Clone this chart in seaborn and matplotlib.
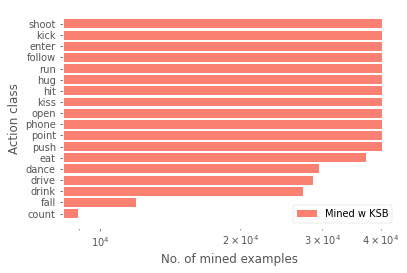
import numpy as np
import pandas as pd
import matplotlib
matplotlib.use("Agg")
import matplotlib.pyplot as plt
import seaborn as sns

# data (top to bottom)
classes = ["shoot", "kick", "enter", "follow", "run", "hug", "hit", "kiss",
           "open", "phone", "point", "push", "eat", "dance", "drive", "drink",
           "fall", "count"]
mined = [40300, 40300, 40300, 40300, 40300, 40300, 40300, 40300,
         40300, 40300, 40300, 40300, 37200, 29500, 28650, 27250,
         11950, 8970]

plt.style.use("ggplot")

df = pd.DataFrame({"cls": classes, "n": mined})

DPI = 71
fig = plt.figure(figsize=(407 / DPI, 273 / DPI), dpi=DPI)
ax = fig.add_axes([0.154, 0.165, 0.822, 0.800])
ax.set_facecolor("white")

sns.barplot(data=df, x="n", y="cls", color="salmon", saturation=1,
            width=0.8, label="Mined w KSB", ax=ax)
ax.set_xscale("log")

n = len(classes)
pad = 0.05 * (n - 0.2)
ax.set_ylim(n - 0.6 + pad, -0.4 - pad)

ax.set_xlabel("No. of mined examples")
ax.set_ylabel("Action class")
leg = ax.legend(loc="lower right", facecolor="white", edgecolor="0.8")

fig.savefig("out.png", dpi=DPI)
